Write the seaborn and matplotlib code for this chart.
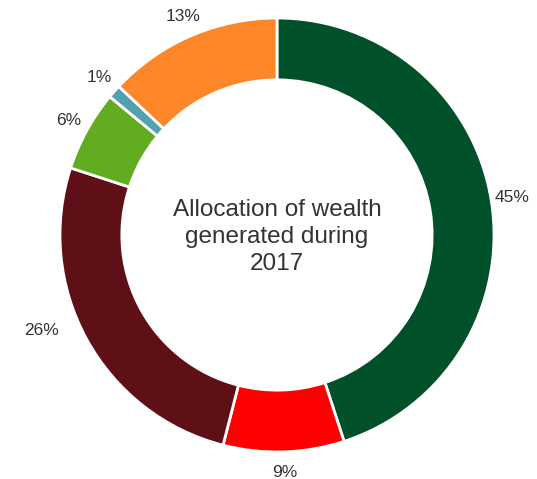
import matplotlib
matplotlib.use("Agg")
import numpy as np
import matplotlib.pyplot as plt
import seaborn as sns

labels = ["45%", "9%", "26%", "6%", "1%", "13%"]
shares = [45, 9, 26, 6, 1, 13]
colours = ["#00502A", "#FF0000", "#5E1016", "#62AC22", "#53A1AF", "#FD8628"]
centre_text = "Allocation of wealth\ngenerated during\n2017"

sns.set_theme(style="white")
plt.rcParams["font.family"] = ["Liberation Sans", "DejaVu Sans"]

W, H = 537, 479
cx, cy, R = 277, 235, 217

fig = plt.figure(figsize=(W / 100, H / 100), dpi=100)
ax = fig.add_axes([0, 0, 1, 1])

wedges, texts = ax.pie(
    shares,
    labels=labels,
    colors=sns.color_palette(colours),
    startangle=90,
    counterclock=False,
    radius=1,
    labeldistance=1.095,
    wedgeprops=dict(width=0.285, edgecolor="white", linewidth=2),
    textprops=dict(fontsize=12.5, color="#333333"),
)
for t in texts:
    t.set_horizontalalignment("center")
    t.set_verticalalignment("center")

# the 26% label sits a bit further out and lower round the ring in the reference
ang = np.deg2rad(90 - 247.8)
texts[2].set_position((1.17 * np.cos(ang), 1.17 * np.sin(ang)))

ax.text(0, -0.01, centre_text, ha="center", va="center", fontsize=17.5,
        color="#333333", linespacing=1.3)

ax.set_xlim(-cx / R, (W - cx) / R)
ax.set_ylim(-(H - cy) / R, cy / R)
ax.set_aspect("auto")
ax.axis("off")

fig.savefig("out.png", dpi=100, facecolor="white")
